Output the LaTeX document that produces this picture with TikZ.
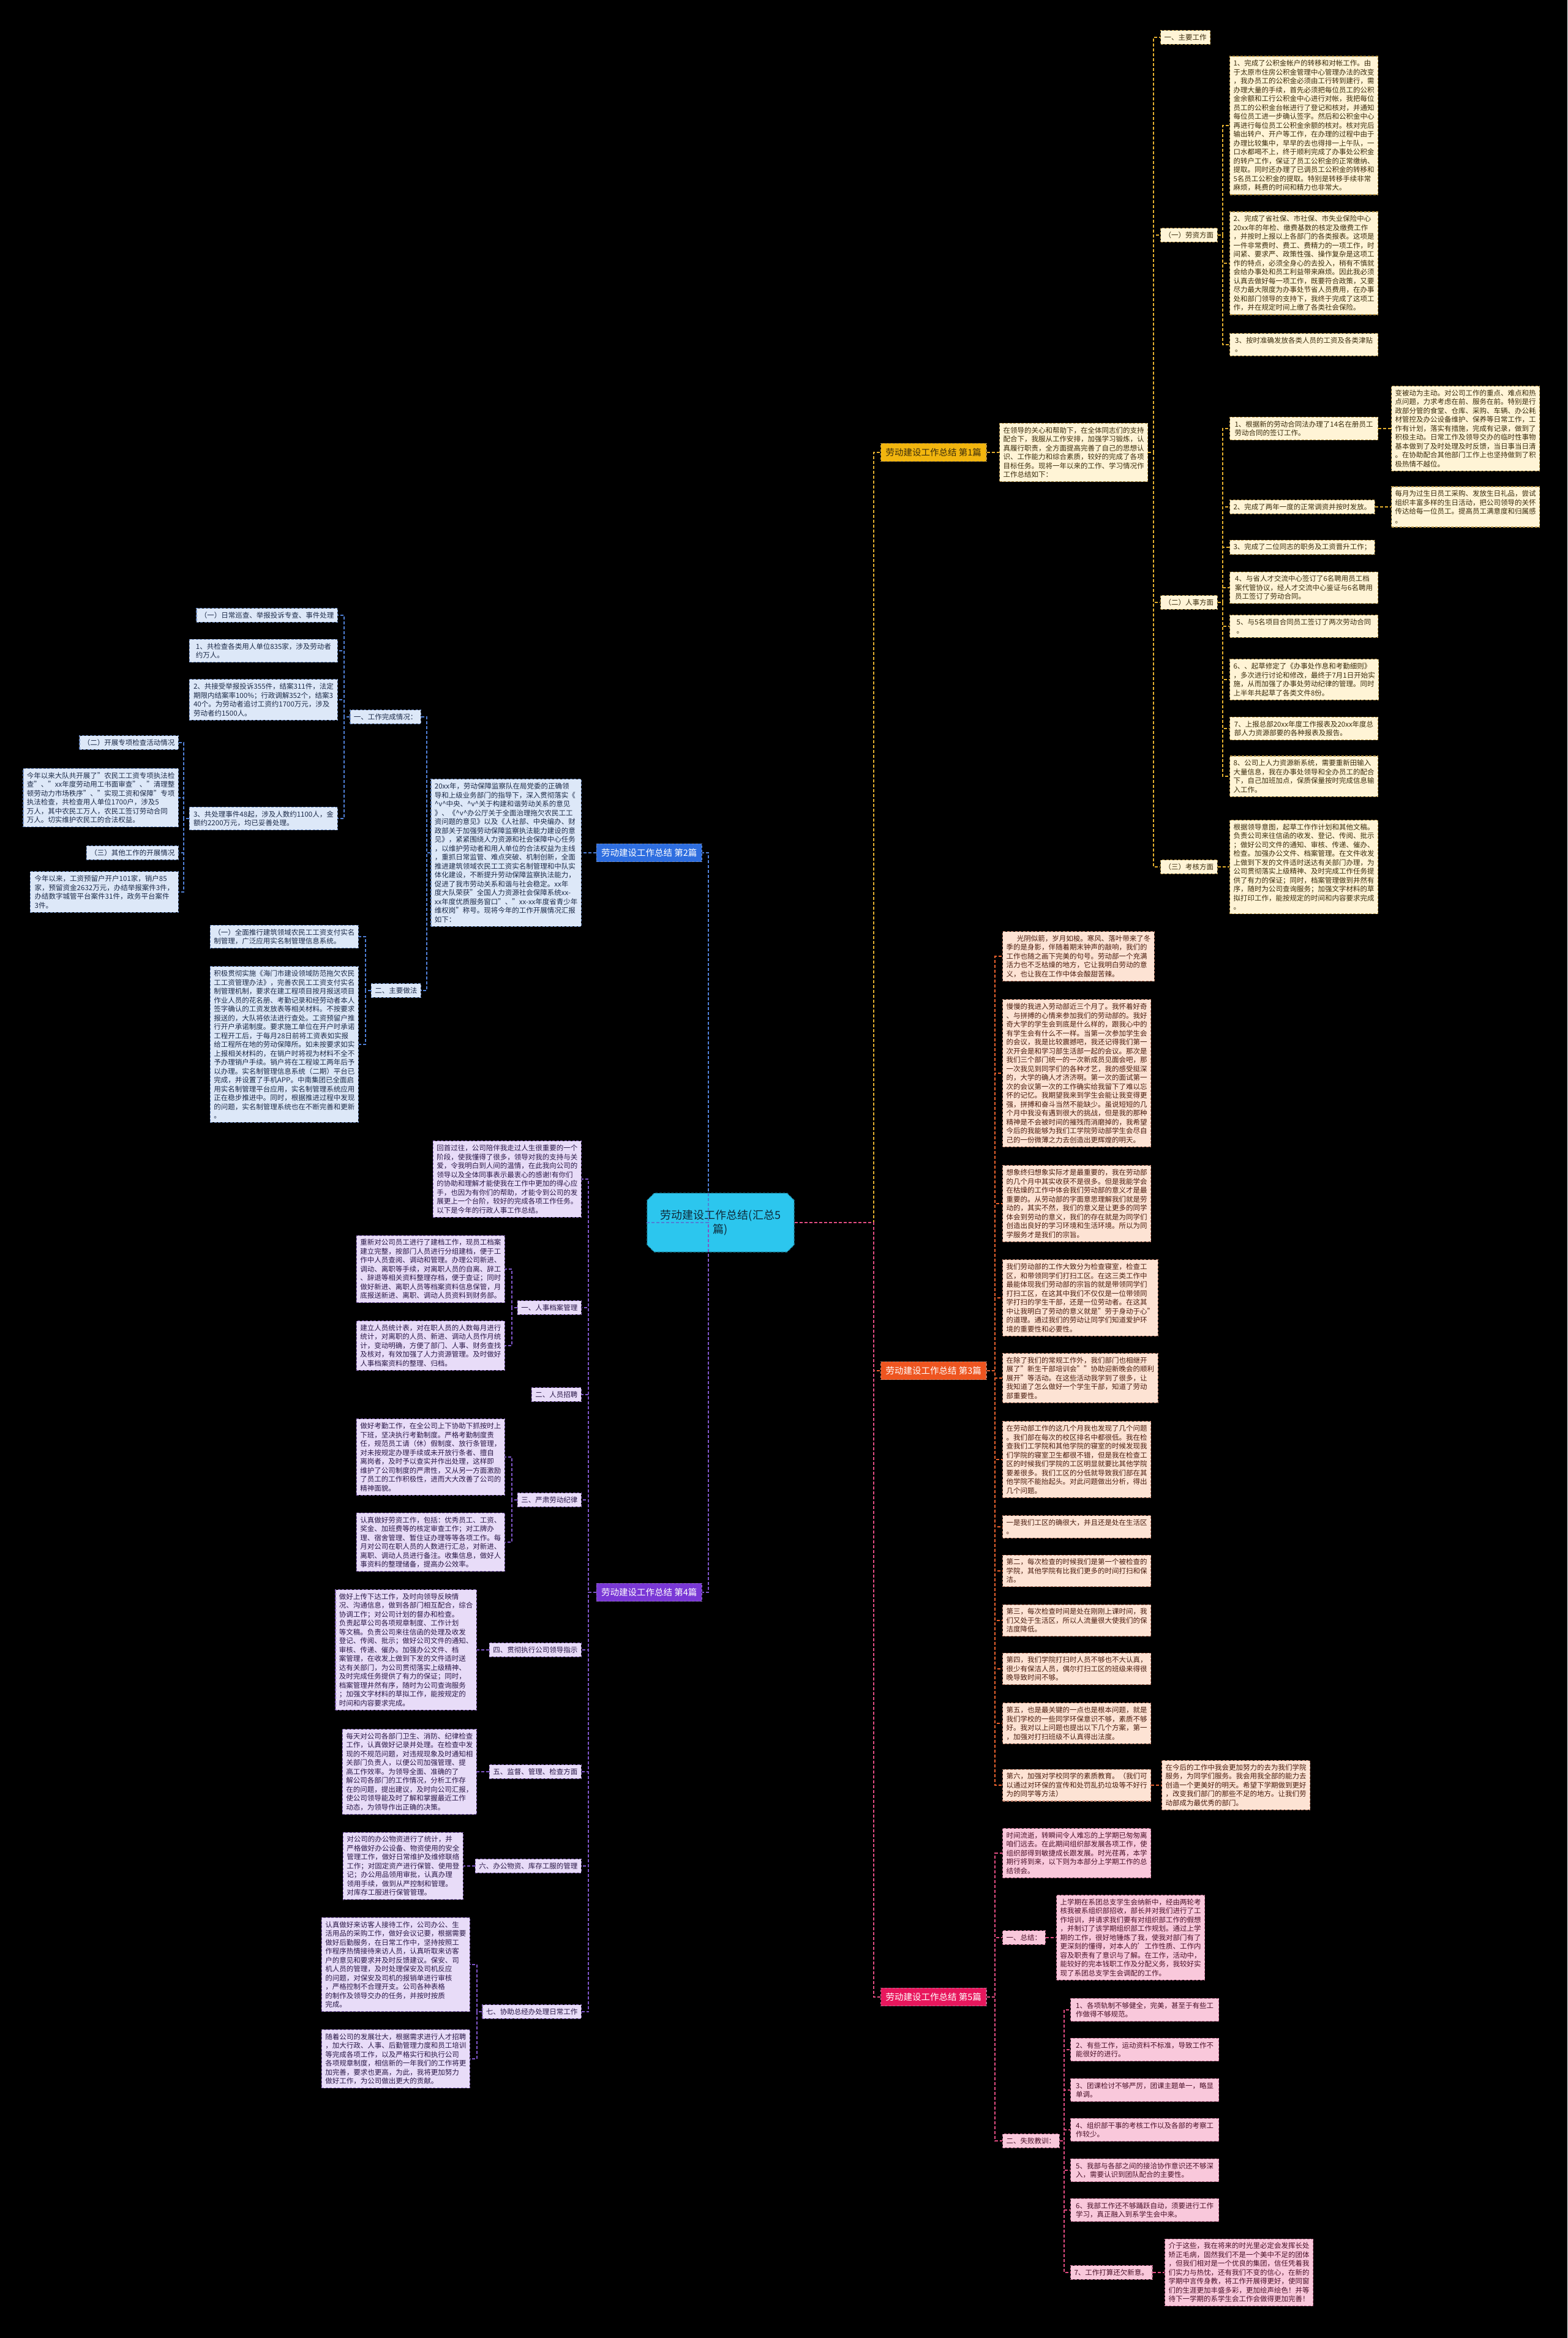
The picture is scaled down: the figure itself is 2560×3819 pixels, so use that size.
\documentclass[tikz,border=0pt]{standalone}
\usepackage{fontspec}
\setmainfont{Noto Sans CJK SC}
\usetikzlibrary{shapes.misc}
\newcommand\mytxt{\fontsize{11.5pt}{14.5pt}\selectfont}
\newcommand\mylab{\fontsize{14.5pt}{18pt}\selectfont}
\newcommand\mycen{\fontsize{18pt}{23pt}\selectfont}
\newcommand\hatv{\textasciicircum v\textasciicircum}
\definecolor{bgc}{HTML}{000000}
\definecolor{g1m}{HTML}{F2B50E}\definecolor{g1f}{HTML}{FFF4D6}\definecolor{g1l}{HTML}{B8964A}\definecolor{g1t}{HTML}{3A2C0C}\definecolor{g1c}{HTML}{E3AF2E}
\definecolor{g2m}{HTML}{2E6EE0}\definecolor{g2f}{HTML}{DDE8F8}\definecolor{g2l}{HTML}{6F8DC4}\definecolor{g2t}{HTML}{1C2A48}\definecolor{g2c}{HTML}{4F7FD6}
\definecolor{g3m}{HTML}{EE5520}\definecolor{g3f}{HTML}{FDE3D4}\definecolor{g3l}{HTML}{C2806A}\definecolor{g3t}{HTML}{4A1C0E}\definecolor{g3c}{HTML}{E8612E}
\definecolor{g4m}{HTML}{7A38D6}\definecolor{g4f}{HTML}{E8DCF8}\definecolor{g4l}{HTML}{8C6CC0}\definecolor{g4t}{HTML}{2A1848}\definecolor{g4c}{HTML}{7E55C8}
\definecolor{g5m}{HTML}{E8175D}\definecolor{g5f}{HTML}{F9C8DB}\definecolor{g5l}{HTML}{C26F92}\definecolor{g5t}{HTML}{4A1028}\definecolor{g5c}{HTML}{E24C82}
\definecolor{cenf}{HTML}{2CC6EE}\definecolor{cent}{HTML}{0E2A3A}
\tikzset{
  conn/.style={line width=1.3pt, dash pattern=on 5pt off 3pt},
  box/.style={rectangle, line width=1.1pt, dash pattern=on 4pt off 2.5pt, align=left, inner sep=6pt, font=\mytxt},
  wide/.style={minimum width=242pt},
  box1/.style={box, fill=g1f, draw=g1l, text=g1t},
  box2/.style={box, fill=g2f, draw=g2l, text=g2t},
  box3/.style={box, fill=g3f, draw=g3l, text=g3t},
  box4/.style={box, fill=g4f, draw=g4l, text=g4t},
  box5/.style={box, fill=g5f, draw=g5l, text=g5t},
  lab/.style={rectangle, line width=1.2pt, dash pattern=on 4pt off 2.5pt, font=\mylab, inner xsep=8pt, inner ysep=8pt},
  lab1/.style={lab, fill=g1m, draw=g1l, text=g1t},
  lab2/.style={lab, fill=g2m, draw=g2l, text=white},
  lab3/.style={lab, fill=g3m, draw=g3l, text=white},
  lab4/.style={lab, fill=g4m, draw=g4l, text=white},
  lab5/.style={lab, fill=g5m, draw=g5l, text=white},
  cen/.style={chamfered rectangle, chamfered rectangle xsep=8pt, fill=cenf, draw=cenf!70!black, line width=1.2pt, dash pattern=on 4pt off 2.5pt, font=\mycen, align=center, inner xsep=14pt, inner ysep=12pt, text=cent, minimum width=229pt, minimum height=96pt},
}
\begin{document}
\begin{tikzpicture}[x=1pt,y=-1pt]
\fill[bgc] (0,0) rectangle (2560,3819);
\useasboundingbox (0,0) rectangle (2560,3819);

% ---------- central ----------
\node[cen] (c) at (1177,1997) {劳动建设工作总结(汇总5\\篇)};
\coordinate (rt) at (1427,1997);
\coordinate (lt) at (1157,1997);

\node[lab1, anchor=west] (b1) at (1438,739) {劳动建设工作总结 第1篇};
\node[lab3, anchor=west] (b3) at (1438,2239) {劳动建设工作总结 第3篇};
\node[lab5, anchor=west] (b5) at (1438,3262) {劳动建设工作总结 第5篇};
\node[lab2, anchor=east] (b2) at (1147,1393) {劳动建设工作总结 第2篇};
\node[lab4, anchor=east] (b4) at (1147,2601) {劳动建设工作总结 第4篇};

\draw[conn,g1c] (c.east) -- (rt) |- (b1.west);
\draw[conn,g3c] (c.east) -- (rt) |- (b3.west);
\draw[conn,g5c] (c.east) -- (rt) |- (b5.west);
\draw[conn,g4c] (c.west) -- (lt) |- (b4.east);
\draw[conn,g2c] (c.west) -- (lt) |- (b2.east);

% ---------- group 1 ----------
\coordinate (x1) at (1884,0);
\coordinate (x1s) at (1997,0);
\node[box1, wide, anchor=west] (i1) at (1632,739) {在领导的关心和帮助下，在全体同志们的支持\\配合下，我服从工作安排，加强学习锻炼，认\\真履行职责，全方面提高完善了自己的思想认\\识、工作能力和综合素质，较好的完成了各项\\目标任务。现将一年以来的工作、学习情况作\\工作总结如下：};
\draw[conn,g1c] (b1.east) -- (i1.west);
\node[box1, anchor=west] (a1) at (1895,61) {一、主要工作};
\node[box1, anchor=west] (a2) at (1895,384) {（一）劳资方面};
\node[box1, anchor=west] (a3) at (1895,984) {（二）人事方面};
\node[box1, anchor=west] (a4) at (1895,1416) {（三）考核方面};
\foreach \n in {a1,a2,a3,a4} \draw[conn,g1c] (i1.east) -- (i1.east -| x1) |- (\n.west);

\node[box1, wide, anchor=west] (t1) at (2008,205) {1、完成了公积金帐户的转移和对帐工作。由\\于太原市住房公积金管理中心管理办法的改变\\，我办员工的公积金必须由工行转到建行，需\\办理大量的手续，首先必须把每位员工的公积\\金余额和工行公积金中心进行对帐，我把每位\\员工的公积金台帐进行了登记和核对，并通知\\每位员工进一步确认签字。然后和公积金中心\\再进行每位员工公积金余额的核对。核对完后\\输出转户、开户等工作，在办理的过程中由于\\办理比较集中，早早的去也得排一上午队，一\\口水都喝不上，终于顺利完成了办事处公积金\\的转户工作，保证了员工公积金的正常缴纳、\\提取。同时还办理了已调员工公积金的转移和\\5名员工公积金的提取。特别是转移手续非常\\麻烦，耗费的时间和精力也非常大。};
\node[box1, wide, anchor=west] (t2) at (2008,430) {2、完成了省社保、市社保、市失业保险中心\\20xx年的年检、缴费基数的核定及缴费工作\\，并按时上报以上各部门的各类报表。这项是\\一件非常费时、费工、费精力的一项工作，时\\间紧、要求严、政策性强、操作复杂是这项工\\作的特点，必须全身心的去投入，稍有不慎就\\会给办事处和员工利益带来麻烦。因此我必须\\认真去做好每一项工作，既要符合政策，又要\\尽力最大限度为办事处节省人员费用，在办事\\处和部门领导的支持下，我终于完成了这项工\\作，并在规定时间上缴了各类社会保险。};
\node[box1, wide, anchor=west] (t3) at (2008,563) {3、按时准确发放各类人员的工资及各类津贴\\。};
\foreach \n in {t1,t2,t3} \draw[conn,g1c] (a2.east) -- (a2.east -| x1s) |- (\n.west);

\node[box1, wide, anchor=west] (p1) at (2008,700) {1、根据新的劳动合同法办理了14名在册员工\\劳动合同的签订工作。};
\node[box1, anchor=west] (p2) at (2008,828) {2、完成了两年一度的正常调资并按时发放。};
\node[box1, anchor=west] (p3) at (2008,894) {3、完成了二位同志的职务及工资晋升工作；};
\node[box1, wide, anchor=west] (p4) at (2008,960) {4、与省人才交流中心签订了6名聘用员工档\\案代管协议，经人才交流中心鉴证与6名聘用\\员工签订了劳动合同。};
\node[box1, wide, anchor=west] (p5) at (2008,1023) {5、与5名项目合同员工签订了两次劳动合同\\。};
\node[box1, wide, anchor=west] (p6) at (2008,1110) {6、、起草修定了《办事处作息和考勤细则》\\，多次进行讨论和修改，最终于7月1日开始实\\施，从而加强了办事处劳动纪律的管理。同时\\上半年共起草了各类文件8份。};
\node[box1, wide, anchor=west] (p7) at (2008,1190) {7、上报总部20xx年度工作报表及20xx年度总\\部人力资源部要的各种报表及报告。};
\node[box1, wide, anchor=west] (p8) at (2008,1268) {8、公司上人力资源新系统，需要重新田输入\\大量信息，我在办事处领导和全办员工的配合\\下，自己加班加点，保质保量按时完成信息输\\入工作。};
\foreach \n in {p1,p2,p3,p4,p5,p6,p7,p8} \draw[conn,g1c] (a3.east) -- (a3.east -| x1s) |- (\n.west);
\node[box1, wide, anchor=west] (r1) at (2272,700) {变被动为主动。对公司工作的重点、难点和热\\点问题，力求考虑在前、服务在前。特别是行\\政部分管的食堂、仓库、采购、车辆、办公耗\\材管控及办公设备维护、保养等日常工作，工\\作有计划，落实有措施，完成有记录，做到了\\积极主动。日常工作及领导交办的临时性事物\\基本做到了及时处理及时反馈，当日事当日清\\。在协助配合其他部门工作上也坚持做到了积\\极热情不越位。};
\node[box1, wide, anchor=west] (r2) at (2272,828) {每月为过生日员工采购、发放生日礼品，尝试\\组织丰富多样的生日活动，把公司领导的关怀\\传达给每一位员工。提高员工满意度和归属感\\。};
\draw[conn,g1c] (p1.east) -- (r1.west);
\draw[conn,g1c] (p2.east) -- (r2.west);
\node[box1, wide, anchor=west] (k1) at (2008,1416) {根据领导意图，起草工作作计划和其他文稿。\\负责公司来往信函的收发、登记、传阅、批示\\；做好公司文件的通知、审核、传递、催办、\\检查。加强办公文件、档案管理。在文件收发\\上做到下发的文件适时送达有关部门办理，为\\公司贯彻落实上级精神、及时完成工作任务提\\供了有力的保证；同时，档案管理做到井然有\\序，随时为公司查询服务；加强文字材料的草\\拟打印工作，能按规定的时间和内容要求完成\\。};
\draw[conn,g1c] (a4.east) -- (k1.west);

% ---------- group 3 ----------
\coordinate (x3) at (1625,0);
\node[box3, wide, anchor=west] (s1) at (1637,1562) {\hspace*{1.5em}光阴似箭，岁月如梭。寒风、落叶带来了冬\\季的是身影，伴随着期末钟声的敲响，我们的\\工作也随之画下完美的句号。劳动部一个充满\\活力也不乏枯燥的地方，它让我明白劳动的意\\义，也让我在工作中体会酸甜苦辣。};
\node[box3, wide, anchor=west] (s2) at (1637,1753) {慢慢的我进入劳动部近三个月了。我怀着好奇\\、与拼搏的心情来参加我们的劳动部的。我好\\奇大学的学生会到底是什么样的，跟我心中的\\有学生会有什么不一样。当第一次参加学生会\\的会议，我是比较震撼吧，我还记得我们第一\\次开会是和学习部生活部一起的会议。那次是\\我们三个部门统一的一次新成员见面会吧，那\\一次我见到同学们的各种才艺，我的感受挺深\\的，大学的确人才济济啊。第一次的面试第一\\次的会议第一次的工作确实给我留下了难以忘\\怀的记忆。我期望我来到学生会能让我变得更\\强，拼搏和奋斗当然不能缺少。虽说短短的几\\个月中我没有遇到很大的挑战，但是我的那种\\精神是不会被时间的摧残而消磨掉的，我希望\\今后的我能够为我们工学院劳动部学生会尽自\\己的一份微薄之力去创造出更辉煌的明天。};
\node[box3, wide, anchor=west] (s3) at (1637,1966) {想象终归想象实际才是最重要的，我在劳动部\\的几个月中其实收获不是很多。但是我能学会\\在枯燥的工作中体会我们劳动部的意义才是最\\重要的。从劳动部的字面意思理解我们就是劳\\动的，其实不然，我们的意义是让更多的同学\\体会到劳动的意义，我们的存在就是为同学们\\创造出良好的学习环境和生活环境。所以为同\\学服务才是我们的宗旨。};
\node[box3, wide, anchor=west] (s4) at (1637,2120) {我们劳动部的工作大致分为检查寝室，检查工\\区，和带领同学们打扫工区。在这三类工作中\\最能体现我们劳动部的宗旨的就是带领同学们\\打扫工区，在这其中我们不仅仅是一位带领同\\学打扫的学生干部，还是一位劳动者。在这其\\中让我明白了劳动的意义就是"劳于身动于心"\\的道理。通过我们的劳动让同学们知道爱护环\\境的重要性和必要性。};
\node[box3, wide, anchor=west] (s5) at (1637,2251) {在除了我们的常规工作外，我们部门也相继开\\展了"新生干部培训会""协助迎新晚会的顺利\\展开"等活动。在这些活动我学到了很多，让\\我知道了怎么做好一个学生干部，知道了劳动\\部重要性。};
\node[box3, wide, anchor=west] (s6) at (1637,2384) {在劳动部工作的这几个月我也发现了几个问题\\。我们部在每次的校区排名中都很低。我在检\\查我们工学院和其他学院的寝室的时候发现我\\们学院的寝室卫生都很不错，但是我在检查工\\区的时候我们学院的工区明显就要比其他学院\\要差很多。我们工区的分低就导致我们部在其\\他学院不能抬起头。对此问题做出分析，得出\\几个问题。};
\node[box3, wide, anchor=west] (s7) at (1637,2494) {一是我们工区的确很大，并且还是处在生活区\\。};
\node[box3, wide, anchor=west] (s8) at (1637,2566) {第二，每次检查的时候我们是第一个被检查的\\学院，其他学院有比我们更多的时间打扫和保\\洁。};
\node[box3, wide, anchor=west] (s9) at (1637,2647) {第三，每次检查时间是处在刚刚上课时间，我\\们又处于生活区，所以人流量很大使我们的保\\洁度降低。};
\node[box3, wide, anchor=west] (s10) at (1637,2726) {第四，我们学院打扫时人员不够也不大认真，\\很少有保洁人员，偶尔打扫工区的班级来得很\\晚导致时间不够。};
\node[box3, wide, anchor=west] (s11) at (1637,2815) {第五，也是最关键的一点也是根本问题，就是\\我们学校的一些同学环保意识不够，素质不够\\好。我对以上问题也提出以下几个方案，第一\\，加强对打扫班级不认真得出法度。};
\node[box3, wide, anchor=west] (s12) at (1637,2916) {第六，加强对学校同学的素质教育。（我们可\\以通过对环保的宣传和处罚乱扔垃圾等不好行\\为的同学等方法）};
\foreach \n in {s1,s2,s3,s4,s5,s6,s7,s8,s9,s10,s11,s12} \draw[conn,g3c] (b3.east) -- (b3.east -| x3) |- (\n.west);
\node[box3, wide, anchor=west] (s12r) at (1897,2916) {在今后的工作中我会更加努力的去为我们学院\\服务，为同学们服务。我会用我全部的能力去\\创造一个更美好的明天。希望下学期做到更好\\，改变我们部门的那些不足的地方。让我们劳\\动部成为最优秀的部门。};
\draw[conn,g3c] (s12.east) -- (s12r.west);

% ---------- group 5 ----------
\coordinate (x5) at (1625,0);
\coordinate (x5s) at (1738,0);
\node[box5, wide, anchor=west] (u1) at (1637,3027) {时间流逝，转瞬间令人难忘的上学期已匆匆离\\咱们远去。在此期间组织部发展各项工作，使\\组织部得到敏捷成长跟发展。时光荏苒，本学\\期行将到来，以下则为本部分上学期工作的总\\结领会。};
\node[box5, anchor=west] (u2) at (1637,3165) {一、总结：};
\node[box5, anchor=west] (u3) at (1637,3497) {二、失败教训：};
\foreach \n in {u1,u2,u3} \draw[conn,g5c] (b5.east) -- (b5.east -| x5) |- (\n.west);
\node[box5, wide, anchor=west] (u2t) at (1725,3165) {上学期在系团总支学生会纳新中，经由两轮考\\核我被系组织部招收，部长并对我们进行了工\\作培训，并请求我们要有对组织部工作的假想\\，并制订了该学期组织部工作规划。通过上学\\期的工作，很好地锤炼了我，使我对部门有了\\更深刻的懂得，对本人的'工作性质、工作内\\容及职责有了意识与了解。在工作，活动中，\\能较好的完本钱职工作及分配义务，我较好实\\现了系团总支学生会调配的工作。};
\draw[conn,g5c] (u2.east) -- (u2t.west);
\node[box5, wide, anchor=west] (f1) at (1748,3283) {1、各项轨制不够健全，完美，甚至于有些工\\作做得不够规范。};
\node[box5, wide, anchor=west] (f2) at (1748,3348) {2、有些工作，运动资料不标准，导致工作不\\能很好的进行。};
\node[box5, wide, anchor=west] (f3) at (1748,3414) {3、团课检讨不够严厉，团课主题单一，略显\\单调。};
\node[box5, wide, anchor=west] (f4) at (1748,3479) {4、组织部干事的考核工作以及各部的考察工\\作较少。};
\node[box5, wide, anchor=west] (f5) at (1748,3545) {5、我部与各部之间的接洽协作意识还不够深\\入，需要认识到团队配合的主要性。};
\node[box5, wide, anchor=west] (f6) at (1748,3610) {6、我部工作还不够踊跃自动，须要进行工作\\学习，真正融入到系学生会中来。};
\node[box5, anchor=west] (f7) at (1748,3712) {7、工作打算还欠新意。};
\foreach \n in {f1,f2,f3,f4,f5,f6,f7} \draw[conn,g5c] (u3.east) -- (u3.east -| x5s) |- (\n.west);
\node[box5, wide, anchor=west] (f7r) at (1902,3712) {介于这些，我在将来的时光里必定会发挥长处\\矫正毛病，固然我们不是一个美中不足的团体\\，但我们相对是一个优良的集团，信任凭着我\\们实力与热忱，还有我们不变的信心，在新的\\学期中言传身教，将工作开展得更好，使同窗\\们的生涯更加丰盛多彩，更加绘声绘色！并等\\待下一学期的系学生会工作会做得更加完善！};
\draw[conn,g5c] (f7.east) -- (f7r.west);

% ---------- group 2 ----------
\coordinate (x2) at (697,0);
\coordinate (x2a) at (562,0);
\coordinate (x2b) at (597,0);
\coordinate (x2c) at (300,0);
\node[box2, wide, anchor=east] (i2) at (950,1393) {20xx年，劳动保障监察队在局党委的正确领\\导和上级业务部门的指导下，深入贯彻落实《\\\hatv 中央、\hatv 关于构建和谐劳动关系的意见\\》、《\hatv 办公厅关于全面治理拖欠农民工工\\资问题的意见》以及《人社部、中央编办、财\\政部关于加强劳动保障监察执法能力建设的意\\见》，紧紧围绕人力资源和社会保障中心任务\\，以维护劳动者和用人单位的合法权益为主线\\，重抓日常监管、难点突破、机制创新，全面\\推进建筑领域农民工工资实名制管理和中队实\\体化建设，不断提升劳动保障监察执法能力，\\促进了我市劳动关系和谐与社会稳定。xx年\\度大队荣获"全国人力资源社会保障系统xx-\\xx年度优质服务窗口"、"xx-xx年度省青少年\\维权岗"称号。现将今年的工作开展情况汇报\\如下：};
\draw[conn,g2c] (b2.west) -- (i2.east);
\node[box2, anchor=east] (m1) at (688,1171) {一、工作完成情况：};
\node[box2, anchor=east] (m2) at (688,1618) {二、主要做法};
\foreach \n in {m1,m2} \draw[conn,g2c] (i2.west) -- (i2.west -| x2) |- (\n.east);
\node[box2, anchor=east, minimum width=230pt] (n0) at (552,1005) {（一）日常巡查、举报投诉专查、事件处理};
\node[box2, wide, anchor=east] (n1) at (552,1063) {1、共检查各类用人单位835家，涉及劳动者\\约万人。};
\node[box2, wide, anchor=east] (n2) at (552,1143) {2、共接受举报投诉355件，结案311件，法定\\期限内结案率100\%；行政调解352个，结案3\\40个。为劳动者追讨工资约1700万元，涉及\\劳动者约1500人。};
\node[box2, wide, anchor=east] (n3) at (552,1337) {3、共处理事件48起，涉及人数约1100人，金\\额约2200万元，均已妥善处理。};
\foreach \n in {n0,n1,n2,n3} \draw[conn,g2c] (m1.west) -- (m1.west -| x2a) |- (\n.east);
\node[box2, anchor=east] (o1) at (292,1213) {（二）开展专项检查活动情况};
\node[box2, wide, anchor=east] (o2) at (292,1303) {今年以来大队共开展了"农民工工资专项执法检\\查"、"xx年度劳动用工书面审查"、"清理整\\顿劳动力市场秩序"、"实现工资和保障"专项\\执法检查，共检查用人单位1700户，涉及5\\万人，其中农民工万人，农民工签订劳动合同\\万人。切实维护农民工的合法权益。};
\node[box2, anchor=east] (o3) at (292,1393) {（三）其他工作的开展情况};
\node[box2, wide, anchor=east] (o4) at (292,1457) {今年以来，工资预留户开户101家，销户85\\家，预留资金2632万元，办结举报案件3件，\\办结数字城管平台案件31件，政务平台案件\\3件。};
\foreach \n in {o1,o2,o3,o4} \draw[conn,g2c] (n3.west) -- (n3.west -| x2c) |- (\n.east);
\node[box2, wide, anchor=east] (q1) at (586,1530) {（一）全面推行建筑领域农民工工资支付实名\\制管理，广泛应用实名制管理信息系统。};
\node[box2, wide, anchor=east] (q2) at (586,1706) {积极贯彻实施《海门市建设领域防范拖欠农民\\工工资管理办法》，完善农民工工资支付实名\\制管理机制，要求在建工程项目按月报送项目\\作业人员的花名册、考勤记录和经劳动者本人\\签字确认的工资发放表等相关材料。不按要求\\报送的，大队将依法进行查处。工资预留户推\\行开户承诺制度。要求施工单位在开户时承诺\\工程开工后，于每月28日前将工资表如实报\\给工程所在地的劳动保障所。如未按要求如实\\上报相关材料的，在销户时将视为材料不全不\\予办理销户手续。销户将在工程竣工两年后予\\以办理。实名制管理信息系统（二期）平台已\\完成，并设置了手机APP。中南集团已全面启\\用实名制管理平台应用，实名制管理系统应用\\正在稳步推进中。同时，根据推进过程中发现\\的问题，实名制管理系统也在不断完善和更新\\。};
\foreach \n in {q1,q2} \draw[conn,g2c] (m2.west) -- (m2.west -| x2b) |- (\n.east);

% ---------- group 4 ----------
\coordinate (x4) at (961,0);
\coordinate (x4s) at (836,0);
\coordinate (x4t) at (779,0);
\node[box4, wide, anchor=east] (v0) at (950,1926) {回首过往，公司陪伴我走过人生很重要的一个\\阶段，使我懂得了很多，领导对我的支持与关\\爱，令我明白到人间的温情，在此我向公司的\\领导以及全体同事表示最衷心的感谢!有你们\\的协助和理解才能使我在工作中更加的得心应\\手，也因为有你们的帮助，才能令到公司的发\\展更上一个台阶，较好的完成各项工作任务。\\以下是今年的行政人事工作总结。};
\node[box4, anchor=east] (v1) at (950,2136) {一、人事档案管理};
\node[box4, anchor=east] (v2) at (950,2278) {二、人员招聘};
\node[box4, anchor=east] (v3) at (950,2450) {三、严肃劳动纪律};
\node[box4, anchor=east] (v4) at (950,2695) {四、贯彻执行公司领导指示};
\node[box4, anchor=east] (v5) at (950,2894) {五、监督、管理、检查方面};
\node[box4, anchor=east] (v6) at (950,3048) {六、办公物资、库存工服的管理};
\node[box4, anchor=east] (v7) at (950,3286) {七、协助总经办处理日常工作};
\foreach \n in {v0,v1,v2,v3,v4,v5,v6,v7} \draw[conn,g4c] (b4.west) -- (b4.west -| x4) |- (\n.east);
\node[box4, wide, anchor=east] (w11) at (825,2073) {重新对公司员工进行了建档工作，现员工档案\\建立完整，按部门人员进行分组建档，便于工\\作中人员查阅、调动和管理。办理公司新进、\\调动、离职等手续，对离职人员的自离、辞工\\、辞退等相关资料整理存档，便于查证；同时\\做好新进、离职人员等档案资料信息保管，月\\底报送新进、离职、调动人员资料到财务部。};
\node[box4, wide, anchor=east] (w12) at (825,2198) {建立人员统计表，对在职人员的人数每月进行\\统计，对离职的人员、新进、调动人员作月统\\计，变动明确，方便了部门、人事、财务查找\\及核对，有效加强了人力资源管理。及时做好\\人事档案资料的整理、归档。};
\foreach \n in {w11,w12} \draw[conn,g4c] (v1.west) -- (v1.west -| x4s) |- (\n.east);
\node[box4, wide, anchor=east] (w31) at (825,2380) {做好考勤工作，在全公司上下协助下抓按时上\\下班，坚决执行考勤制度。严格考勤制度责\\任，规范员工请（休）假制度、放行条管理，\\对未按规定办理手续或未开放行条者、擅自\\离岗者，及时予以查实并作出处理，这样即\\维护了公司制度的严肃性，又从另一方面激励\\了员工的工作积极性，进而大大改善了公司的\\精神面貌。};
\node[box4, wide, anchor=east] (w32) at (825,2519) {认真做好劳资工作，包括：优秀员工、工资、\\奖金、加班费等的核定审查工作；对工牌办\\理、宿舍管理、暂住证办理等等各项工作。每\\月对公司在职人员的人数进行汇总，对新进、\\离职、调动人员进行备注。收集信息，做好人\\事资料的整理储备，提高办公效率。};
\foreach \n in {w31,w32} \draw[conn,g4c] (v3.west) -- (v3.west -| x4s) |- (\n.east);
\node[box4, anchor=east, minimum width=219pt] (w4) at (779,2695) {做好上传下达工作，及时向领导反映情\\况、沟通信息，做到各部门相互配合，综合\\协调工作；对公司计划的督办和检查。\\负责起草公司各项规章制度、工作计划\\等文稿。负责公司来往信函的处理及收发\\登记、传阅、批示；做好公司文件的通知、\\审核、传递、催办。加强办公文件、档\\案管理，在收发上做到下发的文件适时送\\达有关部门，为公司贯彻落实上级精神、\\及时完成任务提供了有力的保证；同时，\\档案管理井然有序，随时为公司查询服务\\；加强文字材料的草拟工作，能按规定的\\时间和内容要求完成。};
\draw[conn,g4c] (v4.west) -- (w4.east);
\node[box4, anchor=east, minimum width=219pt] (w5) at (779,2894) {每天对公司各部门卫生、消防、纪律检查\\工作，认真做好记录并处理。在检查中发\\现的不规范问题，对违规现象及时通知相\\关部门负责人，以便公司加强管理、提\\高工作效率。为领导全面、准确的了\\解公司各部门的工作情况，分析工作存\\在的问题，提出建议，及时向公司汇报，\\使公司领导能及时了解和掌握最近工作\\动态，为领导作出正确的决策。};
\draw[conn,g4c] (v5.west) -- (w5.east);
\node[box4, anchor=east, minimum width=196pt] (w6) at (757,3048) {对公司的办公物资进行了统计，并\\严格做好办公设备、物资使用的安全\\管理工作，做好日常维护及维修联络\\工作；对固定资产进行保管、使用登\\记；办公用品领用审批，认真办理\\领用手续，做到从严控制和管理。\\对库存工服进行保管管理。};
\draw[conn,g4c] (v6.west) -- (w6.east);
\node[box4, wide, anchor=east] (w71) at (768,3209) {认真做好来访客人接待工作，公司办公、生\\活用品的采购工作，做好会议记要，根据需要\\做好后勤服务，在日常工作中，坚持按照工\\作程序热情接待来访人员，认真听取来访客\\户的意见和要求并及时反馈建议。保安、司\\机人员的管理，及时处理保安及司机反应\\的问题，对保安及司机的报销单进行审核\\，严格控制不合理开支。公司各种表格\\的制作及领导交办的任务，并按时按质\\完成。};
\node[box4, wide, anchor=east] (w72) at (768,3363) {随着公司的发展壮大，根据需求进行人才招聘\\，加大行政、人事、后勤管理力度和员工培训\\等完成各项工作，以及严格实行和执行公司\\各项规章制度，相信新的一年我们的工作将更\\加完善，要求也更高，为此，我将更加努力\\做好工作，为公司做出更大的贡献。};
\foreach \n in {w71,w72} \draw[conn,g4c] (v7.west) -- (v7.west -| x4t) |- (\n.east);
\end{tikzpicture}
\end{document}
